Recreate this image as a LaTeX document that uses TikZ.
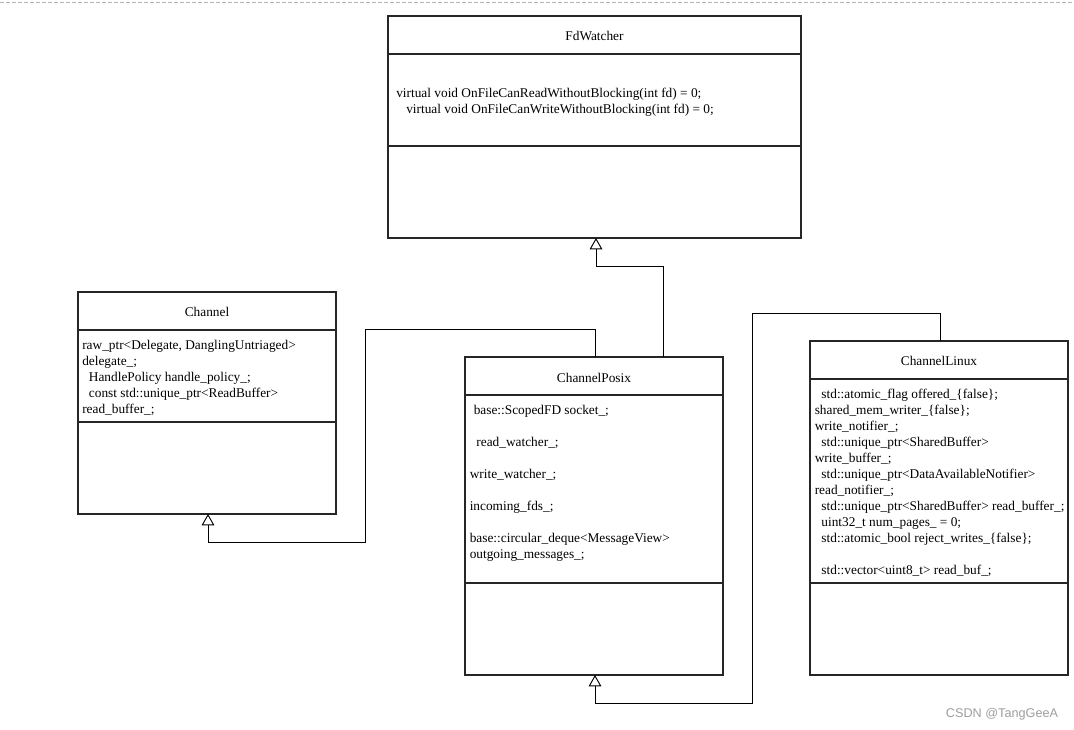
\documentclass[tikz,border=0pt]{standalone}
\usepackage{fontspec}
\setmainfont{Liberation Serif}
\newfontfamily\wmfont{Liberation Sans}
\usetikzlibrary{arrows.meta,calc}
\newcommand{\ind}[1]{\hspace*{#1}}
\tikzset{
  cls/.style={draw=black!85, line width=1pt, inner sep=0pt, outer sep=0pt, anchor=north west, minimum width=258*0.75pt},
  sep/.style={draw=black!85, line width=1pt},
  ttl/.style={anchor=base, inner sep=0pt, font=\fontsize{10}{12}\selectfont},
  body/.style={anchor=north west, inner sep=0pt, align=left, font=\fontsize{10}{12}\selectfont},
  inh/.style={draw=black, line width=0.7pt, -{Triangle[open,length=8.5pt,width=9.5pt,fill=white]}},
}
\begin{document}
\begin{tikzpicture}[x=0.75pt,y=-0.75pt]
\useasboundingbox (0,0) rectangle (1074,729);
\draw[black!30, line width=0.75pt, dash pattern=on 3pt off 1.5pt] (0,2) -- (1074,2);

% FdWatcher
\node[cls, minimum width=413*0.75pt, minimum height=222*0.75pt] (fd) at (388,16) {};
\draw[sep] (388,54) -- (801,54);
\draw[sep] (388,146) -- (801,146);
\node[ttl] (fdt) at (594.5,40) {FdWatcher};
\node[body] (fdb) at (396,85.8) {\strut virtual void OnFileCanReadWithoutBlocking(int fd) = 0;\\
\strut\ind{7.5pt}virtual void OnFileCanWriteWithoutBlocking(int fd) = 0;};

% Channel
\node[cls, minimum height=222*0.75pt] (chan) at (78,292) {};
\draw[sep] (78,330) -- (336,330);
\draw[sep] (78,422) -- (336,422);
\node[ttl] (chant) at (207,316) {Channel};
\node[body] (chanb) at (82,337.8) {\strut raw\_ptr<Delegate, DanglingUntriaged>\\
\strut delegate\_;\\
\strut\ind{5pt}HandlePolicy handle\_policy\_;\\
\strut\ind{5pt}const std::unique\_ptr<ReadBuffer>\\
\strut read\_buffer\_;};

% ChannelPosix
\node[cls, minimum height=318*0.75pt] (posix) at (465,357) {};
\draw[sep] (465,395) -- (723,395);
\draw[sep] (465,583) -- (723,583);
\node[ttl] (posixt) at (594,382) {ChannelPosix};
\node[body] (posixb) at (469.5,402.8) {\strut\ind{3pt}base::ScopedFD socket\_;\\
\strut\\
\strut\ind{5pt}read\_watcher\_;\\
\strut\\
\strut write\_watcher\_;\\
\strut\\
\strut incoming\_fds\_;\\
\strut\\
\strut base::circular\_deque<MessageView>\\
\strut outgoing\_messages\_;};

% ChannelLinux
\node[cls, minimum height=334*0.75pt] (linux) at (810,341) {};
\draw[sep] (810,379) -- (1068,379);
\draw[sep] (810,583) -- (1068,583);
\node[ttl] (linuxt) at (939,365) {ChannelLinux};
\node[body] (linuxb) at (814.5,386.8) {\strut\ind{5pt}std::atomic\_flag offered\_\{false\};\\
\strut shared\_mem\_writer\_\{false\};\\
\strut write\_notifier\_;\\
\strut\ind{5pt}std::unique\_ptr<SharedBuffer>\\
\strut write\_buffer\_;\\
\strut\ind{5pt}std::unique\_ptr<DataAvailableNotifier>\\
\strut read\_notifier\_;\\
\strut\ind{5pt}std::unique\_ptr<SharedBuffer> read\_buffer\_;\\
\strut\ind{5pt}uint32\_t num\_pages\_ = 0;\\
\strut\ind{5pt}std::atomic\_bool reject\_writes\_\{false\};\\
\strut\\
\strut\ind{5pt}std::vector<uint8\_t> read\_buf\_;};

% connectors
\draw[inh] ($(posix.north west)+(198,0)$) |- ($(fd.south west)+(208,28)$) -- ($(fd.south west)+(208,0)$);
\draw[inh] ($(posix.north west)+(130,0)$) -- ++(0,-28) -- ++(-230,0) -- ++(0,213) -| ($(chan.south west)+(130,0)$);
\draw[inh] ($(linux.north west)+(130,0)$) -- ++(0,-28) -- ++(-188,0) -- ++(0,390) -| ($(posix.south west)+(130,0)$);

% watermark
\node[anchor=base, inner sep=0pt, text=black!38, font=\wmfont\fontsize{9.5}{11}\selectfont] (wm) at (1002,717) {CSDN @TangGeeA};
\end{tikzpicture}
\end{document}
